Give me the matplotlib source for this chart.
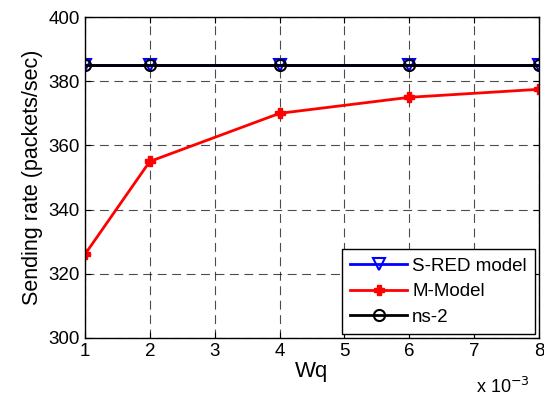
import matplotlib
matplotlib.use("Agg")
import matplotlib.pyplot as plt

wq = [1, 2, 4, 6, 8]
sred = [385, 385, 385, 385, 385]
mmodel = [326, 355, 370, 375, 377.5]
ns2 = [385, 385, 385, 385, 385]
xticks = [1, 2, 3, 4, 5, 6, 7, 8]
yticks = [300, 320, 340, 360, 380, 400]

plt.rcParams['font.family'] = ['Liberation Sans', 'DejaVu Sans']

fig = plt.figure(figsize=(5.44, 3.98), dpi=100)
ax = fig.add_axes([0.156, 0.151, 0.835, 0.806])

ax.plot(wq, sred, color='blue', lw=2, marker='v', ms=8, mfc='none', mew=1.5, label='S-RED model')
ax.plot(wq, mmodel, color='red', lw=2, marker='P', ms=7, mew=1, label='M-Model')
ax.plot(wq, ns2, color='black', lw=2, marker='o', ms=8, mfc='none', mew=1.5, label='ns-2')

ax.set_xlim(1, 8)
ax.set_ylim(300, 400)
ax.set_xticks(xticks)
ax.set_yticks(yticks)
ax.grid(True, color='black', ls=(0, (8, 5)), lw=0.8, alpha=0.7)
ax.tick_params(direction='in', labelsize=13.5, length=4, top=True, right=True)
for s in ax.spines.values():
    s.set_linewidth(1)

ax.set_xlabel('Wq', fontsize=16, labelpad=1)
ax.set_ylabel('Sending rate (packets/sec)', fontsize=15.5, labelpad=4)
fig.text(0.875, 0.012, r'x 10$^{-3}$', fontsize=13)

leg = ax.legend(loc='lower right', fontsize=13.5, fancybox=False, framealpha=1,
                edgecolor='black', borderaxespad=0.2, handlelength=3.0,
                labelspacing=0.45, borderpad=0.45, handletextpad=0.3)
leg.get_frame().set_linewidth(1)

fig.savefig('out.png', dpi=100)
